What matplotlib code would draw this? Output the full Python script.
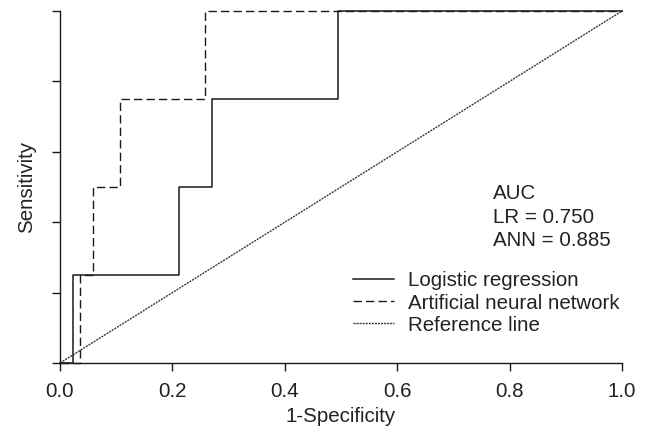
import numpy as np
import matplotlib
matplotlib.use("Agg")
import matplotlib.pyplot as plt

plt.rcParams['font.family'] = ['Liberation Sans', 'DejaVu Sans']

# ROC step points (1-specificity, sensitivity)
lr_fpr = [0.0, 0.023, 0.212, 0.270, 0.495, 1.0]
lr_tpr = [0.0, 0.25, 0.50, 0.75, 1.0, 1.0]
ann_fpr = [0.0, 0.036, 0.059, 0.107, 0.258, 1.0]
ann_tpr = [0.0, 0.25, 0.50, 0.75, 1.0, 1.0]
ref_x = [0.0, 1.0]
ref_y = [0.0, 1.0]

auc_lines = ["AUC", "LR = 0.750", "ANN = 0.885"]
legend_labels = ["Logistic regression", "Artificial neural network", "Reference line"]
x_ticks = [0.0, 0.2, 0.4, 0.6, 0.8, 1.0]
y_ticks = [0.0, 0.2, 0.4, 0.6, 0.8, 1.0]

fs = 14.8
fig = plt.figure(figsize=(6.46, 4.33), dpi=100)
ax = fig.add_axes([60/646, 70/433, 562/646, 352/433])

ax.plot(lr_fpr, lr_tpr, drawstyle='steps-post', color='#1a1a1a', lw=1.1,
        clip_on=False, label=legend_labels[0])
ax.plot(ann_fpr, ann_tpr, drawstyle='steps-post', color='#1a1a1a', lw=1.0,
        linestyle=(0, (6, 3)), clip_on=False, label=legend_labels[1])
ax.plot(ref_x, ref_y, color='#3a3a3a', lw=1.0, linestyle=(0, (1.5, 0.7)),
        clip_on=False, label=legend_labels[2])

ax.set_xlim(0, 1)
ax.set_ylim(0, 1)
ax.spines['top'].set_visible(False)
ax.spines['right'].set_visible(False)
for s in ['left', 'bottom']:
    ax.spines[s].set_linewidth(1.0)
    ax.spines[s].set_color('#1a1a1a')

ax.set_xticks(x_ticks)
ax.set_xticklabels([f"{t:.1f}" for t in x_ticks], fontsize=fs, color='#222222')
ax.set_yticks(y_ticks)
ax.set_yticklabels([])
ax.tick_params(length=6, width=1.0, color='#1a1a1a', pad=8)

ax.set_xlabel("1-Specificity", fontsize=fs, color='#222222', labelpad=4)
ax.set_ylabel("Sensitivity", fontsize=fs, color='#222222', labelpad=3)

ax.text(0.770, 0.508, "\n".join(auc_lines), transform=ax.transAxes,
        fontsize=fs, color='#222222', va='top', ha='left', linespacing=1.3)

leg = ax.legend(loc='upper left', bbox_to_anchor=(0.521, 0.26), frameon=False,
                fontsize=fs, handlelength=2.0, handletextpad=0.7,
                labelspacing=0.15, borderaxespad=0, borderpad=0)
for t in leg.get_texts():
    t.set_color('#222222')

fig.savefig("out.png", dpi=100)
